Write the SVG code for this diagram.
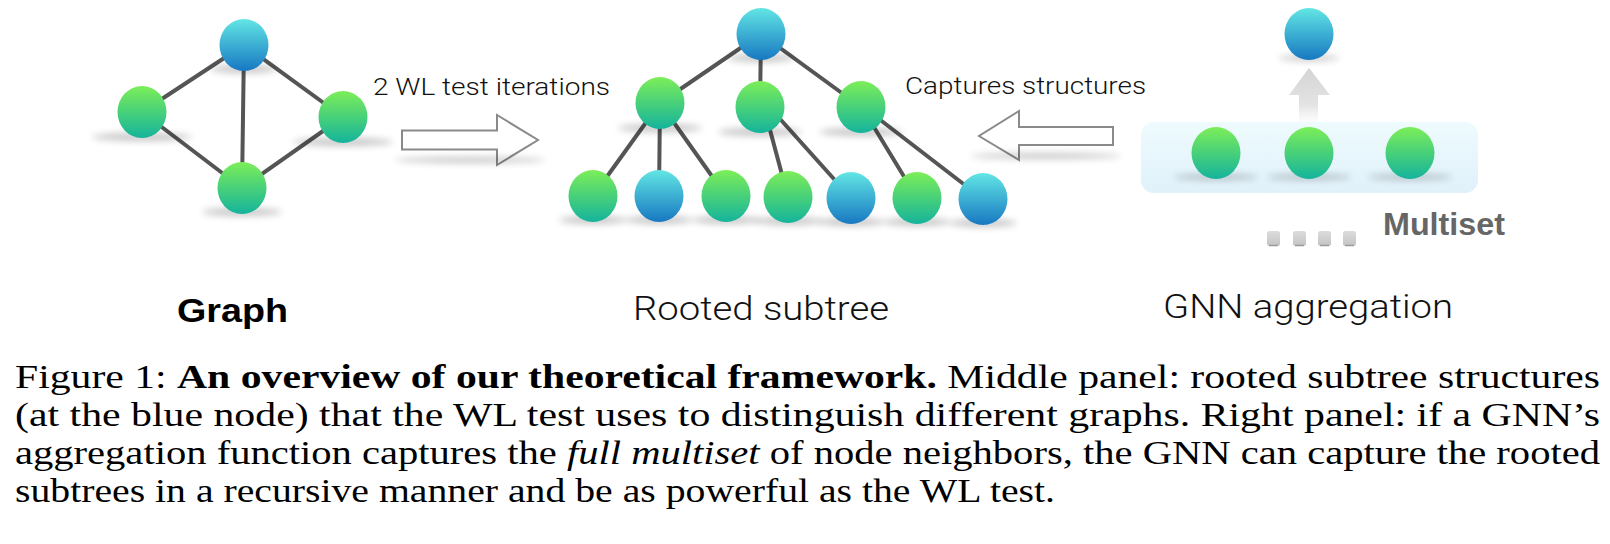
<svg xmlns="http://www.w3.org/2000/svg" width="1610" height="544" viewBox="0 0 1610 544">
<defs>
<linearGradient id="gG" x1="0" y1="0" x2="0" y2="1"><stop offset="0" stop-color="#7cee58"/><stop offset="1" stop-color="#14b39c"/></linearGradient>
<linearGradient id="gB" x1="0" y1="0" x2="0" y2="1"><stop offset="0" stop-color="#62e6e4"/><stop offset="1" stop-color="#1778c2"/></linearGradient>
<linearGradient id="gBox" x1="0" y1="0" x2="0" y2="1"><stop offset="0" stop-color="#eefbfe"/><stop offset="1" stop-color="#e0f1fa"/></linearGradient>
<linearGradient id="gUp" x1="0" y1="0" x2="0" y2="1"><stop offset="0" stop-color="#d4d4d4"/><stop offset="0.7" stop-color="#e4e4e4"/><stop offset="1" stop-color="#f4f4f4" stop-opacity="0.3"/></linearGradient>
<linearGradient id="gDash" x1="0" y1="0" x2="0" y2="1"><stop offset="0" stop-color="#dcdcdc"/><stop offset="1" stop-color="#c4c4c4"/></linearGradient>
<filter id="blur" x="-50%" y="-200%" width="200%" height="500%"><feGaussianBlur stdDeviation="3.5"/></filter>
</defs>
<style>
.g{fill:url(#gG)}
.b{fill:url(#gB)}
.sh{fill:#000;opacity:0.22;filter:url(#blur)}
.e{stroke:#555;stroke-width:4;stroke-linecap:round;fill:none}
.arr{fill:#fff;stroke:#8a8a8a;stroke-width:2}
.lt{font-family:Roboto,"Liberation Sans",Arial,sans-serif;font-weight:300;fill:#111}
.cap{font-family:"Liberation Serif","Times New Roman",serif;font-size:33px;fill:#000}
</style>
<rect width="1610" height="544" fill="#fff"/>

<!-- connectors -->
<g id="connectors">
<line class="e" x1="244" y1="45" x2="142" y2="112"/>
<line class="e" x1="244" y1="45" x2="343" y2="117"/>
<line class="e" x1="244" y1="45" x2="242" y2="188"/>
<line class="e" x1="142" y1="112" x2="242" y2="188"/>
<line class="e" x1="343" y1="117" x2="242" y2="188"/>

<line class="e" x1="761" y1="34" x2="660" y2="103"/>
<line class="e" x1="761" y1="34" x2="760" y2="107"/>
<line class="e" x1="761" y1="34" x2="861" y2="107"/>
<line class="e" x1="660" y1="103" x2="593" y2="196"/>
<line class="e" x1="660" y1="103" x2="659" y2="196"/>
<line class="e" x1="660" y1="103" x2="726" y2="196"/>
<line class="e" x1="766" y1="115" x2="788" y2="197"/>
<line class="e" x1="772" y1="110" x2="851" y2="198"/>
<line class="e" x1="866" y1="114" x2="917" y2="198"/>
<line class="e" x1="870" y1="112" x2="983" y2="199"/>

<path id="arrow1" class="arr" d="M402,130.5 H497 V115 L538,140 L497,165 V149.5 H402 Z"/>
<path id="arrow2" class="arr" d="M1113,127 H1019 V111 L979,136 L1019,160 V145 H1113 Z"/>
</g>
<ellipse class="sh" cx="470" cy="160" rx="75" ry="3" opacity="0.12"/>
<ellipse class="sh" cx="1046" cy="156" rx="75" ry="3" opacity="0.12"/>

<!-- graph panel -->
<g id="graph-top"><ellipse class="sh" cx="244" cy="69" rx="34" ry="4"/><ellipse class="b" cx="244" cy="45" rx="24.5" ry="26"/></g>
<g id="graph-left"><ellipse class="sh" cx="142" cy="137" rx="50" ry="4"/><ellipse class="g" cx="142" cy="112" rx="24.5" ry="26"/></g>
<g id="graph-right"><ellipse class="sh" cx="343" cy="142" rx="50" ry="4"/><ellipse class="g" cx="343" cy="117" rx="24.5" ry="26"/></g>
<g id="graph-bottom"><ellipse class="sh" cx="242" cy="212" rx="40" ry="4"/><ellipse class="g" cx="242" cy="188" rx="24.5" ry="26"/></g>

<!-- tree panel -->
<g id="tree-root"><ellipse class="sh" cx="761" cy="58" rx="34" ry="4"/><ellipse class="b" cx="761" cy="34" rx="24.5" ry="26"/></g>
<g id="tree-m1"><ellipse class="sh" cx="660" cy="128" rx="42" ry="4"/><ellipse class="g" cx="660" cy="103" rx="24.5" ry="26"/></g>
<g id="tree-m2"><ellipse class="sh" cx="760" cy="132" rx="42" ry="4"/><ellipse class="g" cx="760" cy="107" rx="24.5" ry="26"/></g>
<g id="tree-m3"><ellipse class="sh" cx="861" cy="132" rx="42" ry="4"/><ellipse class="g" cx="861" cy="107" rx="24.5" ry="26"/></g>
<g id="tree-l1"><ellipse class="sh" cx="593" cy="220" rx="34" ry="4"/><ellipse class="g" cx="593" cy="196" rx="24.5" ry="26"/></g>
<g id="tree-l2"><ellipse class="sh" cx="659" cy="220" rx="34" ry="4"/><ellipse class="b" cx="659" cy="196" rx="24.5" ry="26"/></g>
<g id="tree-l3"><ellipse class="sh" cx="726" cy="220" rx="34" ry="4"/><ellipse class="g" cx="726" cy="196" rx="24.5" ry="26"/></g>
<g id="tree-l4"><ellipse class="sh" cx="788" cy="221" rx="34" ry="4"/><ellipse class="g" cx="788" cy="197" rx="24.5" ry="26"/></g>
<g id="tree-l5"><ellipse class="sh" cx="851" cy="222" rx="34" ry="4"/><ellipse class="b" cx="851" cy="198" rx="24.5" ry="26"/></g>
<g id="tree-l6"><ellipse class="sh" cx="917" cy="222" rx="34" ry="4"/><ellipse class="g" cx="917" cy="198" rx="24.5" ry="26"/></g>
<g id="tree-l7"><ellipse class="sh" cx="983" cy="223" rx="34" ry="4"/><ellipse class="b" cx="983" cy="199" rx="24.5" ry="26"/></g>

<!-- GNN aggregation panel -->
<g id="agg-top"><ellipse class="sh" cx="1309" cy="58" rx="30" ry="3"/><ellipse class="b" cx="1309" cy="34" rx="24.5" ry="26"/></g>
<g id="agg-arrow"><path d="M1309,68 L1330,95 H1318 V122 H1299 V95 H1289 Z" fill="url(#gUp)"/></g>
<g id="multiset-box">
<rect x="1141" y="122" width="337" height="71" rx="13" fill="url(#gBox)"/>
<ellipse class="sh" cx="1216" cy="177" rx="42" ry="3" opacity="0.15"/>
<ellipse class="sh" cx="1309" cy="177" rx="42" ry="3" opacity="0.15"/>
<ellipse class="sh" cx="1410" cy="177" rx="42" ry="3" opacity="0.15"/>
</g>
<g id="agg-n1"><ellipse class="g" cx="1216" cy="153" rx="24.5" ry="26"/></g>
<g id="agg-n2"><ellipse class="g" cx="1309" cy="153" rx="24.5" ry="26"/></g>
<g id="agg-n3"><ellipse class="g" cx="1410" cy="153" rx="24.5" ry="26"/></g>
<g id="dots">
<rect x="1267" y="231" width="13" height="15" rx="2.5" fill="url(#gDash)"/>
<rect x="1293" y="231" width="13" height="15" rx="2.5" fill="url(#gDash)"/>
<rect x="1318" y="231" width="13" height="15" rx="2.5" fill="url(#gDash)"/>
<rect x="1343" y="231" width="13" height="15" rx="2.5" fill="url(#gDash)"/>
<g stroke="#9a9a9a" stroke-width="1.5">
<line x1="1269" y1="245.5" x2="1278" y2="245.5"/>
<line x1="1295" y1="245.5" x2="1304" y2="245.5"/>
<line x1="1320" y1="245.5" x2="1329" y2="245.5"/>
<line x1="1345" y1="245.5" x2="1354" y2="245.5"/>
</g>
</g>

<!-- labels -->
<text class="lt" x="373" y="95" font-size="24" textLength="237" lengthAdjust="spacingAndGlyphs">2 WL test iterations</text>
<text class="lt" x="905" y="94" font-size="24" textLength="241" lengthAdjust="spacingAndGlyphs">Captures structures</text>
<text x="1383" y="235" font-family="'Liberation Sans',Arial,sans-serif" font-weight="bold" font-size="31" fill="#666" textLength="122" lengthAdjust="spacingAndGlyphs">Multiset</text>
<text x="177" y="322" font-family="'Liberation Sans',Arial,sans-serif" font-weight="bold" font-size="34" fill="#000" textLength="111" lengthAdjust="spacingAndGlyphs">Graph</text>
<text class="lt" x="633" y="320" font-size="33" textLength="256" lengthAdjust="spacingAndGlyphs">Rooted subtree</text>
<text class="lt" x="1163" y="318" font-size="33" textLength="290" lengthAdjust="spacingAndGlyphs">GNN aggregation</text>

<!-- caption -->
<text class="cap" x="15" y="388" textLength="1585" lengthAdjust="spacingAndGlyphs">Figure 1:  <tspan font-weight="bold">An overview of our theoretical framework.</tspan> Middle panel: rooted subtree structures</text>
<text class="cap" x="15" y="426" textLength="1585" lengthAdjust="spacingAndGlyphs">(at the blue node) that the WL test uses to distinguish different graphs. Right panel: if a GNN’s</text>
<text class="cap" x="15" y="464" textLength="1585" lengthAdjust="spacingAndGlyphs">aggregation function captures the <tspan font-style="italic">full multiset</tspan> of node neighbors, the GNN can capture the rooted</text>
<text class="cap" x="15" y="502" textLength="1040" lengthAdjust="spacingAndGlyphs">subtrees in a recursive manner and be as powerful as the WL test.</text>
</svg>
